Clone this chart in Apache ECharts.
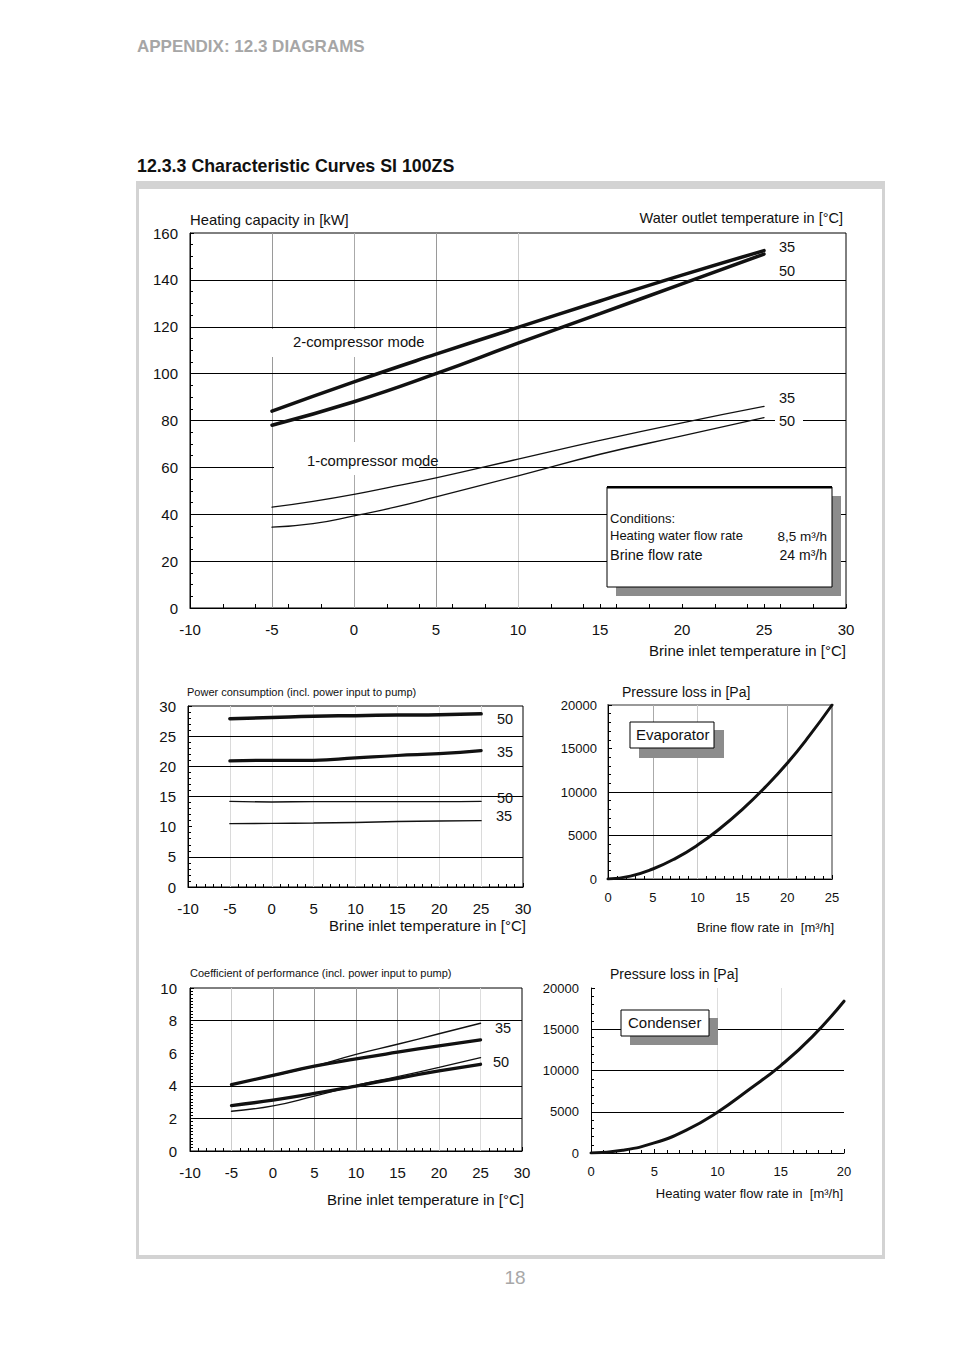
<!DOCTYPE html>
<html>
<head>
<meta charset="utf-8">
<script src="https://cdn.jsdelivr.net/npm/echarts@6/dist/echarts.min.js"></script>
<style>
html,body{margin:0;padding:0;background:#fff;}
#chart{width:954px;height:1351px;}
</style>
</head>
<body>
<div id="chart"></div>
<script>
// ---------- DATA ----------
// Heating capacity (kW) vs brine inlet temperature (°C)
const capX2 = [-5, 0, 5, 10, 15, 20, 25];
const cap2comp35 = [84, 96.5, 108.3, 119.7, 131, 142, 152.5];
const cap2comp50 = [78, 88, 100, 113, 125.6, 138.3, 151];
const capX1 = [-5, -2.5, 0, 2.5, 5, 10, 15, 20, 25];
const cap1comp35 = [43, 45.5, 48.5, 52, 55.5, 63.5, 71.5, 79, 86];
const cap1comp50 = [34.5, 36, 39.3, 43, 47.4, 56.4, 65.6, 73.4, 81.2];

// Power consumption (kW)
const powX = [-5, 0, 5, 10, 15, 20, 25];
const pow2comp50 = [27.9, 28.1, 28.3, 28.4, 28.5, 28.55, 28.7];
const pow2comp35 = [20.9, 21.0, 21.0, 21.4, 21.8, 22.1, 22.6];
const pow1comp50 = [14.2, 14.1, 14.15, 14.15, 14.15, 14.15, 14.2];
const pow1comp35 = [10.5, 10.55, 10.6, 10.7, 10.85, 10.95, 11.0];

// Coefficient of performance
const copX = [-5, 0, 5, 10, 15, 20, 25];
const cop1comp35 = [4.09, 4.62, 5.21, 5.93, 6.55, 7.19, 7.84];
const cop2comp35 = [4.07, 4.64, 5.2, 5.65, 6.06, 6.45, 6.82];
const cop1comp50 = [2.44, 2.77, 3.37, 4.02, 4.56, 5.13, 5.73];
const cop2comp50 = [2.79, 3.12, 3.53, 3.98, 4.46, 4.91, 5.32];

// Pressure loss (Pa)
const evapFlow = [0, 2.5, 5, 7.5, 10, 12.5, 15, 17.5, 20, 22.5, 25];
const evapLoss = [0, 330, 1150, 2350, 3900, 5800, 8000, 10500, 13300, 16500, 20000];
const condFlow = [0, 2.5, 5, 7.5, 10, 12.5, 15, 17.5, 20];
const condLoss = [0, 330, 1220, 2750, 4950, 7700, 10600, 14100, 18400];

// ---------- CHART ----------
const FONT = "'Liberation Sans', Arial, Helvetica, sans-serif";
const NARROW = "'Liberation Sans Narrow', 'Arial Narrow', 'Liberation Sans', sans-serif";
const chart = echarts.init(document.getElementById('chart'), null, {renderer: 'svg'});

function pairs(xs, ys) { return xs.map((x, i) => [x, ys[i]]); }
const plain = v => String(v);

function xAxisCfg(gi, min, max, interval, minorSplit, fs, margin) {
  return {
    type: 'value', gridIndex: gi, min: min, max: max, interval: interval, position: 'bottom',
    axisLine: {show: true, onZero: false, lineStyle: {color: '#000', width: 1}},
    axisTick: {show: true, inside: true, length: 4, lineStyle: {color: '#000'}},
    minorTick: {show: !!minorSplit, splitNumber: minorSplit || 5, length: 3, lineStyle: {color: '#000'}},
    splitLine: {show: false},
    axisLabel: {fontSize: fs, color: '#111', margin: margin, fontFamily: FONT, showMinLabel: true, showMaxLabel: true, formatter: plain}
  };
}
function yAxisCfg(gi, min, max, interval, minorSplit, fs, margin) {
  return {
    type: 'value', gridIndex: gi, min: min, max: max, interval: interval, position: 'left',
    axisLine: {show: true, onZero: false, lineStyle: {color: '#000', width: 1}},
    axisTick: {show: true, inside: true, length: 4, lineStyle: {color: '#000'}},
    minorTick: {show: !!minorSplit, splitNumber: minorSplit || 5, length: 3, lineStyle: {color: '#000'}},
    splitLine: {show: false},
    axisLabel: {fontSize: fs, color: '#111', margin: margin, fontFamily: FONT, showMinLabel: true, showMaxLabel: true, formatter: plain}
  };
}

function curve(gi, xs, ys, w) {
  return {
    type: 'line', xAxisIndex: gi, yAxisIndex: gi, data: pairs(xs, ys),
    symbol: 'none', smooth: 0.5, silent: true, z: 5,
    lineStyle: {color: '#111', width: w, cap: 'round'}
  };
}
function refLines(gi, vx, hy) {
  const d = [];
  vx.forEach(v => d.push({xAxis: v[0], lineStyle: {color: v[1], width: 1, type: 'solid'}}));
  hy.forEach(v => d.push({yAxis: v[0], lineStyle: {color: v[1], width: 1, type: 'solid'}}));
  return {
    type: 'line', xAxisIndex: gi, yAxisIndex: gi, data: [], silent: true, z: 1,
    markLine: {symbol: 'none', silent: true, animation: false, label: {show: false}, data: d}
  };
}

const xAxes = [
  xAxisCfg(0, -10, 30, 5, 0, 15, 14),
  xAxisCfg(1, -10, 30, 5, 5, 15, 13.5),
  xAxisCfg(2, 0, 25, 5, 5, 13, 11.5),
  xAxisCfg(3, -10, 30, 5, 5, 15, 14),
  xAxisCfg(4, 0, 20, 5, 5, 13, 11.5),
  // extra tick-only axis for main chart (ticks every 2 °C)
  {type: 'value', gridIndex: 0, min: -10, max: 30, interval: 2, position: 'bottom',
   axisLine: {show: false}, axisTick: {show: true, inside: true, length: 4, lineStyle: {color: '#000'}},
   axisLabel: {show: false}, splitLine: {show: false}}
];
const yAxes = [
  yAxisCfg(0, 0, 160, 20, 4, 15, 12),
  yAxisCfg(1, 0, 30, 5, 5, 15, 12),
  yAxisCfg(2, 0, 20000, 5000, 5, 13, 11),
  yAxisCfg(3, 0, 10, 2, 10, 15, 13),
  yAxisCfg(4, 0, 20000, 5000, 5, 13, 12)
];

const series = [
  refLines(0, [[-5, '#9a9a9a'], [0, '#aaaaaa'], [5, '#9a9a9a'], [10, '#cccccc']],
              [[20, '#000'], [40, '#000'], [60, '#000'], [80, '#000'], [100, '#000'], [120, '#000'], [140, '#000']]),
  refLines(1, [[-5, '#dadada'], [0, '#dadada'], [5, '#dadada'], [10, '#dadada'], [15, '#dadada'], [20, '#dadada'], [25, '#dadada']],
              [[5, '#000'], [15, '#000'], [20, '#000'], [25, '#000']]),
  refLines(2, [[5, '#aaaaaa'], [10, '#cccccc'], [20, '#aaaaaa']], [[5000, '#000'], [10000, '#000']]),
  refLines(3, [[-5, '#cccccc'], [0, '#999999'], [5, '#999999'], [10, '#999999'], [15, '#999999'], [20, '#cccccc'], [25, '#dddddd']],
              [[2, '#000'], [4, '#000'], [8, '#000']]),
  refLines(4, [[10, '#dddddd'], [15, '#dddddd']], [[5000, '#000'], [10000, '#000'], [15000, '#000']]),

  curve(0, capX2, cap2comp35, 3.5),
  curve(0, capX2, cap2comp50, 3.5),
  curve(0, capX1, cap1comp35, 1.3),
  curve(0, capX1, cap1comp50, 1.3),

  curve(1, powX, pow2comp50, 3.5),
  curve(1, powX, pow2comp35, 3.2),
  curve(1, powX, pow1comp50, 1.4),
  curve(1, powX, pow1comp35, 1.4),

  curve(2, evapFlow, evapLoss, 3),

  curve(3, copX, cop1comp35, 1.4),
  curve(3, copX, cop2comp35, 3.3),
  curve(3, copX, cop1comp50, 1.4),
  curve(3, copX, cop2comp50, 3.3),

  curve(4, condFlow, condLoss, 3)
];

function txt(x, y, s, opt) {
  opt = opt || {};
  return {
    type: 'text', z: opt.z || 102, silent: true,
    style: {
      x: x, y: y, text: s,
      fill: opt.color || '#111',
      font: (opt.bold ? 'bold ' : '') + (opt.size || 14) + 'px ' + (opt.family || FONT),
      textAlign: opt.align || 'left', textVerticalAlign: 'middle'
    }
  };
}
function rect(x, y, w, h, fill, stroke, z) {
  return {type: 'rect', z: z || 100, silent: true, shape: {x: x, y: y, width: w, height: h},
          style: {fill: fill, stroke: stroke || null, lineWidth: stroke ? 1 : 0}};
}

const graphics = [
  // page frame
  rect(136, 181, 749, 8, '#d3d3d3'),
  rect(136, 181, 3, 1078, '#d3d3d3'),
  rect(882, 181, 3, 1078, '#d3d3d3'),
  rect(136, 1255, 749, 4, '#d3d3d3'),
  // header
  txt(137, 46, 'APPENDIX: 12.3 DIAGRAMS', {bold: true, size: 17, color: '#a6a6a6'}),
  txt(137, 166, '12.3.3 Characteristic Curves SI 100ZS', {bold: true, size: 17.8, color: '#111'}),
  txt(515, 1277, '18', {size: 19, color: '#a8a8a8', align: 'center'}),

  // main chart texts
  txt(190, 220, 'Heating capacity in [kW]', {size: 14.8}),
  txt(843, 218, 'Water outlet temperature in [°C]', {size: 14.5, align: 'right'}),
  txt(846, 650, 'Brine inlet temperature in [°C]', {size: 15, align: 'right'}),
  rect(266, 329, 154, 28, '#fff'),
  txt(293, 342, '2-compressor mode', {size: 14.8}),
  rect(274, 442, 145, 33, '#fff'),
  txt(307, 461, '1-compressor mode', {size: 14.8}),
  txt(779, 247, '35', {size: 14.5}),
  rect(775, 262, 28, 18, '#fff'),
  txt(779, 271, '50', {size: 14.5}),
  txt(779, 398, '35', {size: 14.5}),
  rect(775, 412, 28, 18, '#fff'),
  txt(779, 421, '50', {size: 14.5}),
  // conditions box
  rect(616, 496, 225, 100, '#8c8c8c'),
  rect(607, 487, 225, 100, '#fff', '#000', 101),
  rect(607, 486, 225, 2.5, '#000', null, 101),
  txt(610, 518, 'Conditions:', {size: 13}),
  txt(610, 535, 'Heating water flow rate', {size: 13}),
  txt(827, 536, '8,5 m³/h', {size: 13.5, align: 'right'}),
  txt(610, 555, 'Brine flow rate', {size: 14.5}),
  txt(827, 555, '24 m³/h', {size: 14, align: 'right'}),

  // power chart texts
  txt(187, 692, 'Power consumption (incl. power input to pump)', {size: 11, family: NARROW}),
  txt(497, 719, '50', {size: 14.5}),
  txt(497, 752, '35', {size: 14.5}),
  txt(497, 798, '50', {size: 14.5}),
  txt(496, 816, '35', {size: 14.5}),
  txt(526, 925, 'Brine inlet temperature in [°C]', {size: 15, align: 'right'}),

  // evaporator texts
  txt(622, 692, 'Pressure loss in [Pa]', {size: 14}),
  rect(639, 730, 85, 28, '#8c8c8c'),
  rect(630, 722, 84, 26, '#fff', '#000', 101),
  txt(636, 734, 'Evaporator', {size: 15}),
  txt(834, 927, 'Brine flow rate in  [m³/h]', {size: 13, align: 'right'}),

  // COP texts
  txt(190, 973, 'Coefficient of performance (incl. power input to pump)', {size: 11, family: NARROW}),
  txt(495, 1028, '35', {size: 14.5}),
  txt(493, 1062, '50', {size: 14.5}),
  txt(524, 1199, 'Brine inlet temperature in [°C]', {size: 15, align: 'right'}),

  // condenser texts
  txt(610, 974, 'Pressure loss in [Pa]', {size: 14}),
  rect(630, 1018, 88, 27, '#8c8c8c'),
  rect(621, 1010, 88, 26, '#fff', '#000', 101),
  txt(628, 1022, 'Condenser', {size: 15}),
  txt(843, 1193, 'Heating water flow rate in  [m³/h]', {size: 13, align: 'right'})
];

chart.setOption({
  animation: false,
  backgroundColor: '#fff',
  textStyle: {fontFamily: FONT},
  grid: [
    {left: 190, top: 233, width: 656, height: 375, show: true, borderColor: '#000', borderWidth: 1},
    {left: 188, top: 706, width: 335, height: 181, show: true, borderColor: '#000', borderWidth: 1},
    {left: 608, top: 705, width: 224, height: 174, show: true, borderColor: '#999', borderWidth: 2},
    {left: 190, top: 988, width: 332, height: 163, show: true, borderColor: '#000', borderWidth: 1},
    {left: 591, top: 988, width: 253, height: 165, show: false}
  ],
  xAxis: xAxes,
  yAxis: yAxes,
  series: series,
  graphic: {elements: graphics}
});
</script>
</body>
</html>
